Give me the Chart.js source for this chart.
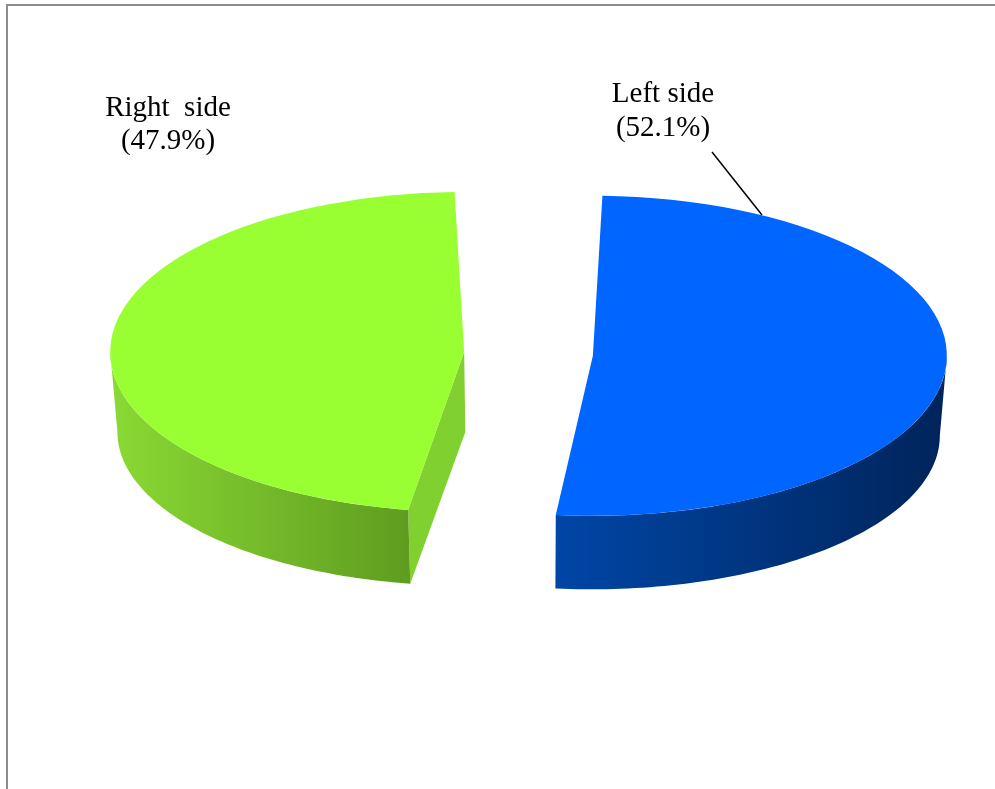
<!DOCTYPE html>
<html>
<head>
<meta charset="utf-8">
<script src="https://cdn.jsdelivr.net/npm/chart.js@4/dist/chart.umd.min.js"></script>
<style>
  html, body { margin: 0; padding: 0; background: #fff; }
  #frame { position: absolute; left: 6px; top: 4px; width: 989px; height: 785px;
           border-left: 2px solid #8c8c8c; border-top: 2px solid #8c8c8c; }
  #myChart { position: absolute; left: 0; top: 0; }
</style>
</head>
<body>
<div id="frame"></div>
<canvas id="myChart" width="995" height="789"></canvas>
<script>
let labels = ["Left side", "Right  side"];
let values = [52.1, 47.9];
let topColors = ["#0066FF", "#99FF33"];
let wallColors = [["#0046a6", "#00245a"], ["#8ad934", "#5f9c20"]];
let faceColors = ["#00307a", "#80d030"];
let offsets = [240, 276]; // chart.js moves a slice by offset/4

// fake 3d look
let squash = 0.452;
let centerY = 354;
let depth = 80;
let bottomSquash = 0.96;
let shrink = 0.983;

// same math chart.js uses when it draws an offset arc
function sliceGeom(arc) {
  const p = arc.getProps(["x", "y", "startAngle", "endAngle", "outerRadius", "circumference"]);
  const o = (arc.options.offset || 0) / 4;
  const mid = (p.startAngle + p.endAngle) / 2;
  const fix = 1 - Math.sin(Math.min(Math.PI, p.circumference || 0));
  const ro = o * fix;
  const r = p.outerRadius + ro;
  const alpha = p.endAngle - p.startAngle;
  const beta = Math.max(0.001, alpha * r - ro / Math.PI) / r;
  const da = (alpha - beta) / 2;
  return {
    cx: p.x + Math.cos(mid) * o,
    cy: p.y + Math.sin(mid) * o,
    y0: p.y,
    r: r,
    a1: p.startAngle + da,
    a2: p.endAngle - da,
  };
}

function topPt(g, a) {
  return [g.cx + g.r * Math.cos(a), centerY + (g.cy - g.y0 + g.r * Math.sin(a)) * squash];
}
function botPt(g, a, vx) {
  const x = g.cx + g.r * Math.cos(a);
  return [vx + (x - vx) * shrink,
          centerY + depth + (g.cy - g.y0 + g.r * Math.sin(a)) * squash * bottomSquash];
}
function topCenter(g) { return [g.cx, centerY + (g.cy - g.y0) * squash]; }
function botCenter(g, vx) {
  return [vx + (g.cx - vx) * shrink, centerY + depth + (g.cy - g.y0) * squash * bottomSquash];
}

function area(pts) {
  let s = 0;
  for (let i = 0; i < pts.length; i++) {
    const a = pts[i], b = pts[(i + 1) % pts.length];
    s += a[0] * b[1] - b[0] * a[1];
  }
  return s;
}

const pie3d = {
  id: "pie3d",
  beforeDatasetsDraw(chart) {
    const ctx = chart.ctx;
    const meta = chart.getDatasetMeta(0);
    const vx = (chart.chartArea.left + chart.chartArea.right) / 2;
    meta.data.forEach((arc, i) => {
      const g = sliceGeom(arc);

      // cut faces
      [[g.a1, -1], [g.a2, 1]].forEach(([a, sign]) => {
        const q = [topCenter(g), topPt(g, a), botPt(g, a, vx), botCenter(g, vx)];
        if (area(q) * sign > 0) {
          ctx.beginPath();
          q.forEach((pt, k) => (k ? ctx.lineTo(pt[0], pt[1]) : ctx.moveTo(pt[0], pt[1])));
          ctx.closePath();
          ctx.fillStyle = faceColors[i];
          ctx.fill();
        }
      });

      // outer wall, front half only
      const b1 = Math.max(g.a1, 0);
      const b2 = Math.min(g.a2, Math.PI);
      if (b2 > b1) {
        const n = 80;
        const tops = [], bots = [];
        for (let k = 0; k <= n; k++) {
          const a = b1 + (b2 - b1) * k / n;
          tops.push(topPt(g, a));
          bots.push(botPt(g, a, vx));
        }
        const xs = tops.concat(bots).map(pt => pt[0]);
        const grad = ctx.createLinearGradient(Math.min(...xs), 0, Math.max(...xs), 0);
        grad.addColorStop(0, wallColors[i][0]);
        grad.addColorStop(1, wallColors[i][1]);
        ctx.beginPath();
        tops.forEach((pt, k) => (k ? ctx.lineTo(pt[0], pt[1]) : ctx.moveTo(pt[0], pt[1])));
        bots.reverse().forEach(pt => ctx.lineTo(pt[0], pt[1]));
        ctx.closePath();
        ctx.fillStyle = grad;
        ctx.fill();
      }
    });

    // flatten the pie top
    const cy0 = (chart.chartArea.top + chart.chartArea.bottom) / 2;
    ctx.save();
    ctx.translate(0, centerY);
    ctx.scale(1, squash);
    ctx.translate(0, -cy0);
  },
  afterDatasetsDraw(chart) {
    chart.ctx.restore();
  },
  afterDraw(chart) {
    const ctx = chart.ctx;
    ctx.save();
    ctx.fillStyle = "#000";
    ctx.font = '29px "Liberation Serif", "Times New Roman", serif';
    ctx.textAlign = "center";
    ctx.textBaseline = "alphabetic";
    const pos = [[663, 102, 136], [168, 116, 149]];
    labels.forEach((lab, i) => {
      ctx.fillText(lab, pos[i][0], pos[i][1]);
      ctx.fillText("(" + values[i].toFixed(1) + "%)", pos[i][0], pos[i][2]);
    });
    // leader line for the left side label
    ctx.strokeStyle = "#000";
    ctx.lineWidth = 1.5;
    ctx.beginPath();
    ctx.moveTo(712, 152);
    ctx.lineTo(762, 215);
    ctx.stroke();
    ctx.restore();
  },
};

new Chart(document.getElementById("myChart"), {
  type: "pie",
  data: {
    labels: labels,
    datasets: [
      {
        data: values,
        backgroundColor: topColors,
        borderWidth: 0,
        offset: offsets,
        clip: false,
      },
    ],
  },
  options: {
    responsive: false,
    animation: false,
    events: [],
    radius: 294,
    rotation: 0,
    layout: { padding: { left: 71 } },
    plugins: {
      legend: { display: false },
      tooltip: { enabled: false },
    },
  },
  plugins: [pie3d],
});
</script>
</body>
</html>
